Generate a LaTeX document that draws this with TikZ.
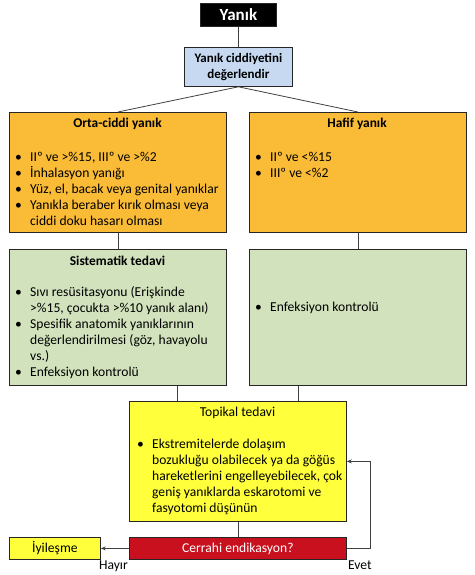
\documentclass[tikz,border=0pt]{standalone}
\usepackage{fontspec}
\setmainfont{Carlito}
\usepackage{tikz}
\usetikzlibrary{arrows.meta,positioning,calc}
\definecolor{sevbg}{RGB}{198,217,240}
\definecolor{ortabg}{RGB}{250,187,55}
\definecolor{tedbg}{RGB}{209,226,188}
\definecolor{topbg}{RGB}{255,255,60}
\definecolor{cerbg}{RGB}{200,16,30}
\newcommand{\bul}{\makebox[15pt][l]{\textbullet}}
\newcommand{\lst}[1]{\begin{tabular}[t]{@{}l@{}l@{}}#1\end{tabular}}
\begin{document}
\begin{tikzpicture}[x=1pt,y=-1pt,
    font=\fontsize{13.6}{15.9}\selectfont,
    box/.style={draw=black!85,line width=0.8pt,anchor=north west,inner sep=0pt},
    ttl/.style={font=\fontsize{13.4}{15.9}\selectfont\bfseries,inner sep=0pt},
    items/.style={anchor=base west,inner sep=0pt},
    conn/.style={draw=black!75,line width=0.8pt}]
  \useasboundingbox (0,0) rectangle (474,575);
  \node[box,fill=black,minimum width=76pt,minimum height=23pt,text=white,
        font=\fontsize{17}{20}\selectfont\bfseries] (yanik) at (200,3) {Yanık};
  \node[box,fill=sevbg,minimum width=108pt,minimum height=39pt,align=center,
        font=\fontsize{13}{15.5}\selectfont\bfseries] (sev) at (184,47)
        {Yanık ciddiyetini\\değerlendir};
  \node[box,fill=ortabg,minimum width=217pt,minimum height=120pt] (orta) at (9,112) {};
  \node[box,fill=ortabg,minimum width=217pt,minimum height=120pt] (hafif) at (249,112) {};
  \node[box,fill=tedbg,minimum width=217pt,minimum height=136pt] (sis) at (9,249) {};
  \node[box,fill=tedbg,minimum width=217pt,minimum height=136pt] (enf) at (249,249) {};
  \node[box,fill=topbg,minimum width=217pt,minimum height=120pt] (top) at (129,401) {};
  \node[box,fill=cerbg,minimum width=217pt,minimum height=22pt,text=white] (cer) at (129,537)
        {Cerrahi endikasyon?};
  \node[box,fill=topbg,minimum width=91pt,minimum height=22pt] (iyi) at (9,537) {İyileşme};

  \node[ttl] (ortaT) at (117.5,124) {Orta-ciddi yanık};
  \node[items] (ortaL) at (15,161.5) {\lst{%
    \bul & IIº ve >\%15, IIIº ve >\%2\\
    \bul & İnhalasyon yanığı\\
    \bul & Yüz, el, bacak veya genital yanıklar\\
    \bul & Yanıkla beraber kırık olması veya\\
         & ciddi doku hasarı olması}};
  \node[ttl] (hafifT) at (357,124) {Hafif yanık};
  \node[items] (hafifL) at (255,161.5) {\lst{%
    \bul & IIº ve <\%15\\
    \bul & IIIº ve <\%2}};
  \node[ttl] (sisT) at (117.5,261) {Sistematik tedavi};
  \node[items] (sisL) at (15,296.5) {\lst{%
    \bul & Sıvı resüsitasyonu (Erişkinde\\
         & >\%15, çocukta >\%10 yanık alanı)\\
    \bul & Spesifik anatomik yanıklarının\\
         & değerlendirilmesi (göz, havayolu\\
         & vs.)\\
    \bul & Enfeksiyon kontrolü}};
  \node[items] (enfL) at (255,311.5) {\lst{\bul & Enfeksiyon kontrolü}};
  \node[ttl,font=\fontsize{13.6}{15.9}\selectfont] (topT) at (237.5,413) {Topikal tedavi};
  \node[items] (topL) at (137,448.5) {\lst{%
    \bul & Ekstremitelerde dolaşım\\
         & bozukluğu olabilecek ya da göğüs\\
         & hareketlerini engelleyebilecek, çok\\
         & geniş yanıklarda eskarotomi ve\\
         & fasyotomi düşünün}};
  \node[anchor=north east,inner sep=1pt] (hayir) at (cer.south west) {Hayır};
  \node[anchor=north west,inner sep=1pt] (evet) at (cer.south east) {Evet};

  \draw[conn] (yanik.south) -- (sev.north);
  \draw[conn] (sev.south) -- (orta.north);
  \draw[conn] (sev.south) -- (hafif.north);
  \draw[conn] (orta.south) -- (sis.north);
  \draw[conn] (hafif.south) -- (enf.north);
  \draw[conn] (top.135 |- sis.south) -- (top.135);
  \draw[conn] (top.45 |- enf.south) -- (top.45);
  \draw[conn] (top.south) -- (cer.north);
  \draw[conn,-{Stealth[length=5pt,width=4pt]}] (cer.west) -- (iyi.east);
  \draw[conn,-{Stealth[length=5pt,width=4pt]}] (cer.east) -- ++(24,0) |- (top.east);
\end{tikzpicture}
\end{document}
